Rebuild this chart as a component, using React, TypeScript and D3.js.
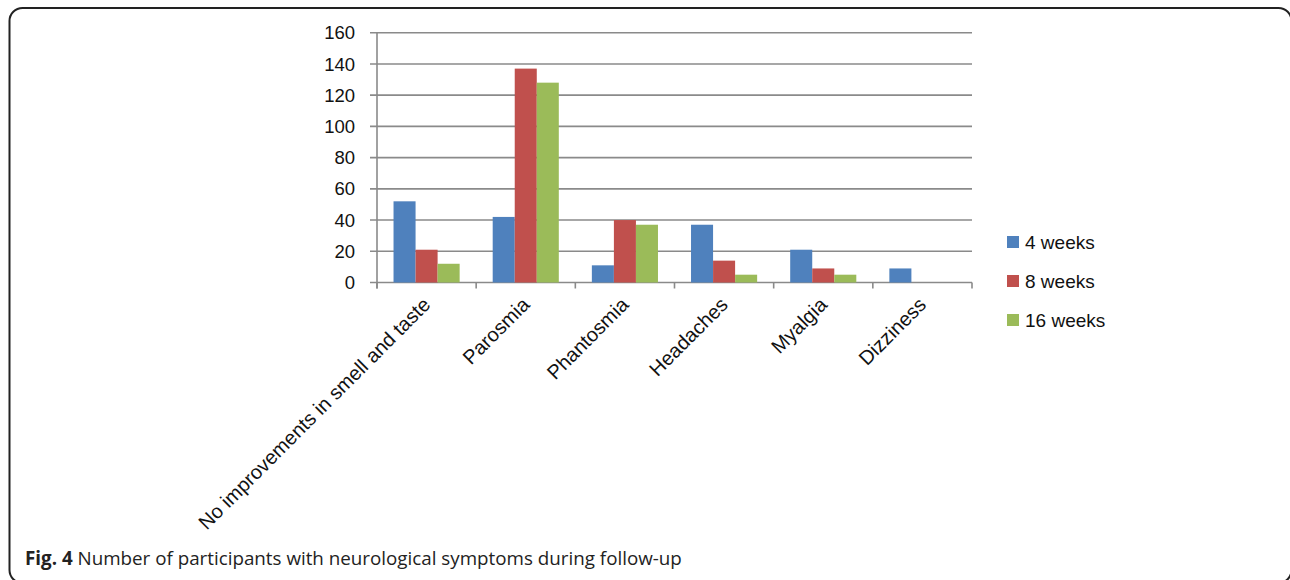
import React from "react";
import * as d3 from "d3";

const categories = [
  "No improvements in smell and taste",
  "Parosmia",
  "Phantosmia",
  "Headaches",
  "Myalgia",
  "Dizziness",
];
const seriesNames = ["4 weeks", "8 weeks", "16 weeks"];
const weeks4 = [52, 42, 11, 37, 21, 9];
const weeks8 = [21, 137, 40, 14, 9, 0];
const weeks16 = [12, 128, 37, 5, 5, 0];
const yTicks = [0, 20, 40, 60, 80, 100, 120, 140, 160];
const colors = ["#4F81BD", "#C0504D", "#9BBB59"];
const captionBold = "Fig. 4";
const captionText = " Number of participants with neurological symptoms during follow-up";

const W = 1290;
const H = 580;
const plotLeft = 377;
const plotRight = 972;
const plotTop = 32.7;
const plotBottom = 282.5;
const FONT = "'Liberation Sans', Arial, sans-serif";

export default function App() {
  const series = [weeks4, weeks8, weeks16];
  const x = d3.scaleBand<string>().domain(categories).range([plotLeft, plotRight]).padding(0);
  const y = d3.scaleLinear().domain([0, 160]).range([plotBottom, plotTop]);
  const bw = x.bandwidth() / 4.5;
  const gridColor = "#8A8A8A";

  return (
    <svg
      width={W}
      height={H}
      viewBox={`0 0 ${W} ${H}`}
      style={{ position: "absolute", left: 0, top: 0, background: "#fff" }}
    >
      {/* frame */}
      <rect x={9.5} y={8} width={1282} height={575} rx={13} ry={13} fill="none" stroke="#222" strokeWidth={2} />

      {/* gridlines */}
      {yTicks.map((t) => (
        <line
          key={"g" + t}
          x1={plotLeft - 7}
          x2={plotRight}
          y1={y(t)}
          y2={y(t)}
          stroke={gridColor}
          strokeWidth={1.6}
        />
      ))}
      {/* y axis */}
      <line x1={plotLeft} x2={plotLeft} y1={plotTop} y2={plotBottom + 6} stroke={gridColor} strokeWidth={1.6} />
      {/* x ticks */}
      {d3.range(categories.length + 1).map((i) => {
        const xx = plotLeft + i * x.bandwidth();
        return (
          <line key={"xt" + i} x1={xx} x2={xx} y1={plotBottom} y2={plotBottom + 6} stroke={gridColor} strokeWidth={1.6} />
        );
      })}

      {/* bars */}
      {series.map((vals, si) =>
        vals.map((v, ci) => {
          const x0 = (x(categories[ci]) as number) + 0.75 * bw + si * bw;
          return v > 0 ? (
            <rect
              key={`b${si}-${ci}`}
              x={x0}
              y={y(v)}
              width={bw}
              height={plotBottom - y(v)}
              fill={colors[si]}
            />
          ) : null;
        })
      )}

      {/* y tick labels */}
      {yTicks.map((t) => (
        <text
          key={"yl" + t}
          x={355}
          y={y(t)}
          dy="0.36em"
          textAnchor="end"
          fontFamily={FONT}
          fontSize={18.5}
          fill="#111"
        >
          {t}
        </text>
      ))}

      {/* x labels */}
      {categories.map((c) => {
        const cx = (x(c) as number) + x.bandwidth() / 2;
        return (
          <text
            key={"xl" + c}
            transform={`translate(${cx + 5},${306}) rotate(-45)`}
            textAnchor="end"
            fontFamily={FONT}
            fontSize={20}
            fill="#111"
          >
            {c}
          </text>
        );
      })}

      {/* legend */}
      {seriesNames.map((s, i) => {
        const yy = 242 + i * 39;
        return (
          <g key={"lg" + s}>
            <rect x={1007} y={yy - 6} width={12} height={12} fill={colors[i]} />
            <text x={1025} y={yy} dy="0.36em" fontFamily={FONT} fontSize={19} fill="#111">
              {s}
            </text>
          </g>
        );
      })}

      {/* caption */}
      <text x={25} y={565} fontFamily="'Open Sans', sans-serif" fontSize={18.8} fill="#222">
        <tspan fontWeight="bold">{captionBold}</tspan>
        <tspan>{captionText}</tspan>
      </text>
    </svg>
  );
}
